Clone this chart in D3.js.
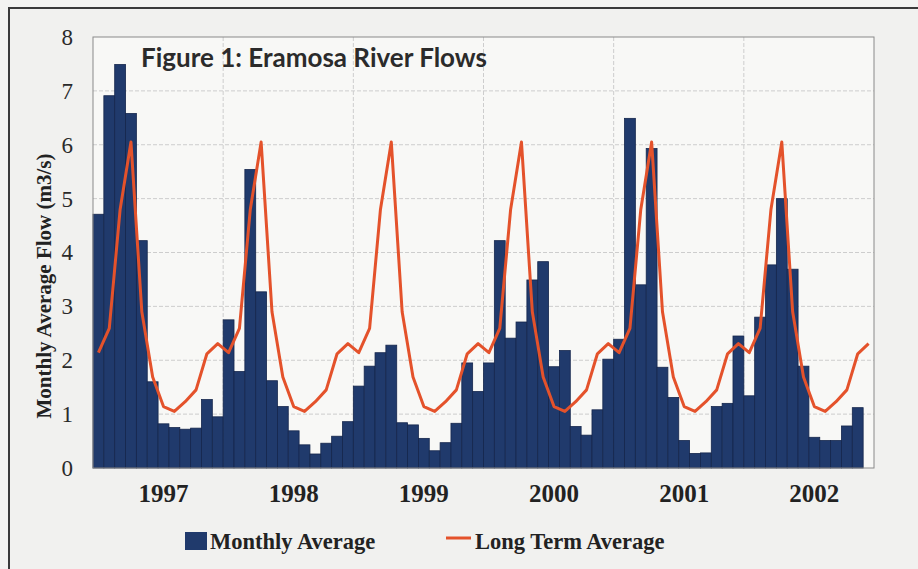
<!DOCTYPE html>
<html>
<head>
<meta charset="utf-8">
<script src="https://cdn.jsdelivr.net/npm/d3@7"></script>
<style>
  body { margin: 0; background: #f3f3f1; }
  svg { display: block; }
</style>
</head>
<body>
<div id="chart"></div>
<script>
// chart data
var years = ["1997", "1998", "1999", "2000", "2001", "2002"];
var monthNames = ["Jan", "Feb", "Mar", "Apr", "May", "Jun", "Jul", "Aug", "Sep", "Oct", "Nov", "Dec"];

// monthly average flow (m3/s), last month has no bar
var monthlyAvg = [
  4.71, 6.91, 7.49, 6.58, 4.22, 1.60, 0.82, 0.75, 0.72, 0.74, 1.27, 0.95,
  2.75, 1.79, 5.54, 3.27, 1.62, 1.14, 0.69, 0.43, 0.26, 0.46, 0.59, 0.86,
  1.52, 1.89, 2.14, 2.28, 0.84, 0.80, 0.55, 0.32, 0.47, 0.83, 1.95, 1.42,
  1.95, 4.22, 2.41, 2.71, 3.49, 3.83, 1.88, 2.18, 0.77, 0.61, 1.08, 2.02,
  2.39, 6.49, 3.40, 5.93, 1.87, 1.31, 0.51, 0.27, 0.28, 1.14, 1.20, 2.45,
  1.34, 2.80, 3.77, 5.00, 3.69, 1.89, 0.57, 0.51, 0.51, 0.78, 1.12
];

// long term average for each month
var longTermAvg = [
  2.14, 2.59, 4.80, 6.05, 2.90, 1.69, 1.14, 1.05, 1.23, 1.45, 2.12, 2.31,
  2.14, 2.59, 4.80, 6.05, 2.90, 1.69, 1.14, 1.05, 1.23, 1.45, 2.12, 2.31,
  2.14, 2.59, 4.80, 6.05, 2.90, 1.69, 1.14, 1.05, 1.23, 1.45, 2.12, 2.31,
  2.14, 2.59, 4.80, 6.05, 2.90, 1.69, 1.14, 1.05, 1.23, 1.45, 2.12, 2.31,
  2.14, 2.59, 4.80, 6.05, 2.90, 1.69, 1.14, 1.05, 1.23, 1.45, 2.12, 2.31,
  2.14, 2.59, 4.80, 6.05, 2.90, 1.69, 1.14, 1.05, 1.23, 1.45, 2.12, 2.31
];

var yTicks = [0, 1, 2, 3, 4, 5, 6, 7, 8];

// month keys like "1997-Jan"
var months = [];
years.forEach(function(yr) {
  monthNames.forEach(function(m) { months.push(yr + "-" + m); });
});

var W = 918, H = 569;
var margin = {top: 37, right: 44, bottom: 101, left: 93},
    width = W - margin.left - margin.right,
    height = H - margin.top - margin.bottom;

var svg = d3.select("#chart").append("svg")
  .attr("width", W)
  .attr("height", H);

// outer frame
svg.append("rect")
  .attr("x", 9).attr("y", 8)
  .attr("width", 940).attr("height", 600)
  .attr("fill", "#f1f1ef")
  .attr("stroke", "#3a3a3a")
  .attr("stroke-width", 2);

var chartGroup = svg.append("g")
  .attr("transform", `translate(${margin.left}, ${margin.top})`);

var x = d3.scaleBand()
  .domain(months)
  .range([0, width])
  .padding(0);

var y = d3.scaleLinear()
  .domain([0, 8])
  .range([height, 0]);

// plot area background
chartGroup.append("rect")
  .attr("width", width)
  .attr("height", height)
  .attr("fill", "#f8f8f6");

// gridlines
chartGroup.append("g")
  .selectAll("line")
  .data(yTicks.filter(d => d > 0 && d < 8))
  .enter().append("line")
    .attr("x1", 0).attr("x2", width)
    .attr("y1", d => y(d)).attr("y2", d => y(d))
    .attr("stroke", "#cdcdcd")
    .attr("stroke-dasharray", "4,2");

chartGroup.append("g")
  .selectAll("line")
  .data(years.slice(1))
  .enter().append("line")
    .attr("x1", d => x(d + "-Jan")).attr("x2", d => x(d + "-Jan"))
    .attr("y1", 0).attr("y2", height)
    .attr("stroke", "#cdcdcd")
    .attr("stroke-dasharray", "4,2");

// bars
chartGroup.append("g")
  .selectAll("rect")
  .data(monthlyAvg)
  .enter().append("rect")
    .attr("x", (d, i) => x(months[i]))
    .attr("width", x.bandwidth())
    .attr("y", d => y(d))
    .attr("height", d => height - y(d))
    .attr("fill", "#203a6c")
    .attr("stroke", "#15264c")
    .attr("stroke-width", 0.8);

// long term average line
chartGroup.append("path")
  .datum(longTermAvg)
  .attr("fill", "none")
  .attr("stroke", "#e4522b")
  .attr("stroke-width", 3)
  .attr("stroke-linejoin", "round")
  .attr("d", d3.line()
    .x((d, i) => x(months[i]) + x.bandwidth() / 2)
    .y(d => y(d)));

// plot border
chartGroup.append("rect")
  .attr("width", width)
  .attr("height", height)
  .attr("fill", "none")
  .attr("stroke", "#8a8a8a")
  .attr("stroke-width", 1);

// y axis labels
var yAxis = chartGroup.append("g")
  .call(d3.axisLeft(y).tickValues(yTicks).tickSize(0).tickPadding(20).tickFormat(d3.format("d")));
yAxis.select(".domain").remove();
yAxis.selectAll("text")
  .attr("font-family", "'Liberation Serif', 'Times New Roman', serif")
  .attr("font-size", 23)
  .attr("fill", "#2a2a2a");

// year labels, under July of each year
chartGroup.append("g")
  .selectAll("text")
  .data(years)
  .enter().append("text")
    .attr("x", d => x(d + "-Jul") + x.bandwidth() / 2)
    .attr("y", height + 34)
    .attr("text-anchor", "middle")
    .attr("font-family", "'Liberation Serif', 'Times New Roman', serif")
    .attr("font-weight", "bold")
    .attr("font-size", 25)
    .attr("fill", "#222")
    .text(d => d);

// axis title
svg.append("text")
  .attr("transform", "translate(51, 286) rotate(-90)")
  .attr("text-anchor", "middle")
  .attr("font-family", "'Liberation Serif', 'Times New Roman', serif")
  .attr("font-weight", "bold")
  .attr("font-size", 21)
  .attr("fill", "#222")
  .text("Monthly Average Flow (m3/s)");

// chart title
svg.append("text")
  .attr("x", 141)
  .attr("y", 67)
  .attr("font-family", "Lato, 'Open Sans', sans-serif")
  .attr("font-weight", "bold")
  .attr("font-size", 26)
  .attr("fill", "#2b2b2b")
  .text("Figure 1: Eramosa River Flows");

// legend
var legend = svg.append("g");
legend.append("rect")
  .attr("x", 185).attr("y", 532)
  .attr("width", 22).attr("height", 18)
  .attr("fill", "#203a6c");
legend.append("text")
  .attr("x", 210).attr("y", 549)
  .attr("font-family", "'Liberation Serif', 'Times New Roman', serif")
  .attr("font-weight", "bold")
  .attr("font-size", 22.5)
  .attr("fill", "#222")
  .text("Monthly Average");
legend.append("line")
  .attr("x1", 446).attr("x2", 471)
  .attr("y1", 538).attr("y2", 538)
  .attr("stroke", "#e4522b")
  .attr("stroke-width", 3);
legend.append("text")
  .attr("x", 475).attr("y", 549)
  .attr("font-family", "'Liberation Serif', 'Times New Roman', serif")
  .attr("font-weight", "bold")
  .attr("font-size", 22.5)
  .attr("fill", "#222")
  .text("Long Term Average");
</script>
</body>
</html>
